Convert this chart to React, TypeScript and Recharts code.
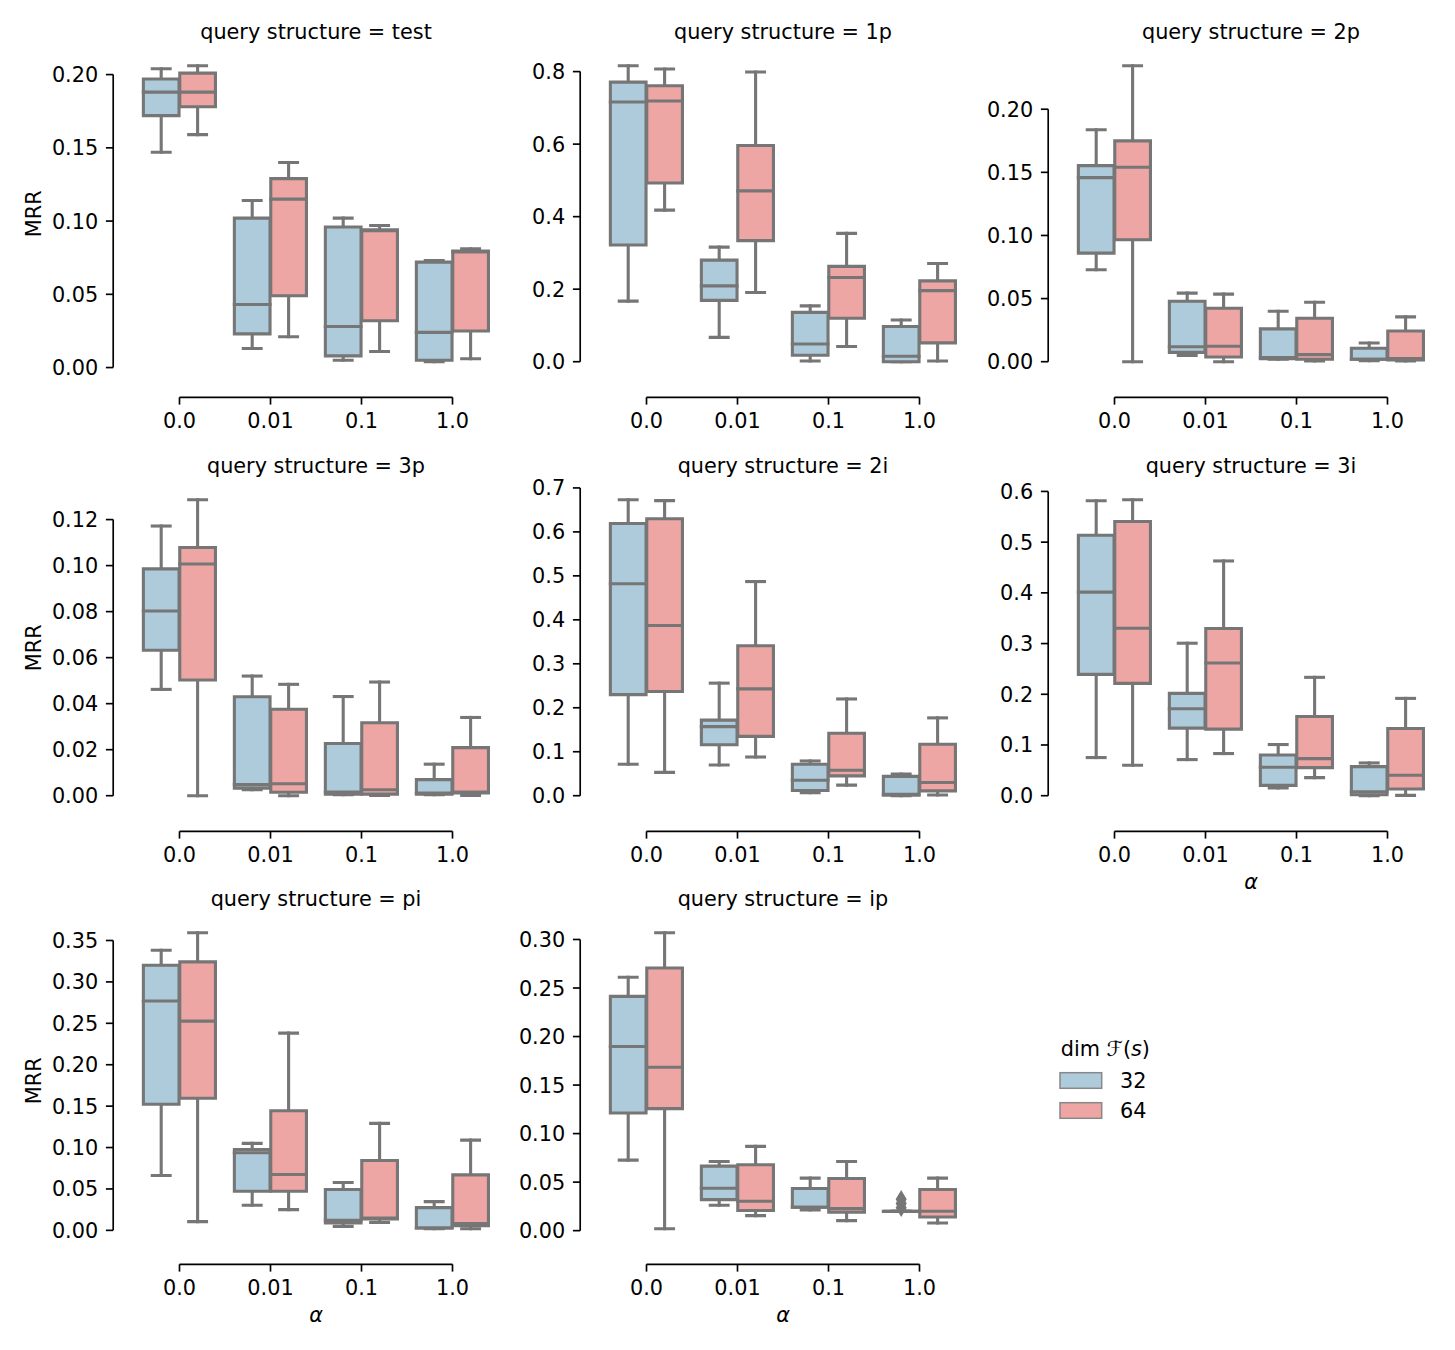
import React from 'react';
import { ComposedChart, Bar, XAxis, YAxis, Customized } from 'recharts';

const ALPHAS = ['0.0', '0.01', '0.1', '1.0'];

// every box: [whisker low, q1, median, q3, whisker high]
const test32 = [[0.147, 0.172, 0.188, 0.197, 0.204], [0.013, 0.023, 0.043, 0.102, 0.114], [0.005, 0.008, 0.028, 0.096, 0.102], [0.004, 0.005, 0.024, 0.072, 0.073]];
const test64 = [[0.159, 0.178, 0.188, 0.201, 0.206], [0.021, 0.049, 0.115, 0.129, 0.14], [0.011, 0.032, 0.0935, 0.0941, 0.097], [0.006, 0.025, 0.079, 0.0796, 0.081]];
const p1_32 = [[0.167, 0.322, 0.716, 0.771, 0.816], [0.067, 0.169, 0.209, 0.28, 0.316], [0.002, 0.018, 0.049, 0.136, 0.154], [0.0, 0.0, 0.015, 0.097, 0.115]];
const p1_64 = [[0.418, 0.493, 0.719, 0.761, 0.807], [0.191, 0.334, 0.471, 0.596, 0.799], [0.042, 0.12, 0.232, 0.263, 0.354], [0.002, 0.052, 0.196, 0.223, 0.271]];
const p2_32 = [[0.0728, 0.086, 0.1458, 0.1553, 0.1837], [0.005, 0.0074, 0.0119, 0.0479, 0.0543], [0.002, 0.0024, 0.0032, 0.026, 0.04], [0.0008, 0.0019, 0.002, 0.0106, 0.0148]];
const p2_64 = [[0.0, 0.0966, 0.154, 0.1749, 0.2344], [0.0, 0.0037, 0.0122, 0.0423, 0.0535], [0.0005, 0.0019, 0.0056, 0.0344, 0.0471], [0.0005, 0.0013, 0.0024, 0.0243, 0.0355]];
const p3_32 = [[0.0462, 0.0632, 0.0803, 0.0986, 0.1172], [0.0026, 0.0033, 0.0048, 0.043, 0.052], [0.0004, 0.0007, 0.0016, 0.0227, 0.0431], [0.0004, 0.0007, 0.0012, 0.007, 0.0137]];
const p3_64 = [[0.0, 0.0503, 0.1007, 0.1079, 0.1286], [0.0, 0.0015, 0.0052, 0.0376, 0.0484], [0.0001, 0.0007, 0.0026, 0.0317, 0.0494], [0.0001, 0.0012, 0.0016, 0.0209, 0.034]];
const i2_32 = [[0.0715, 0.23, 0.482, 0.619, 0.673], [0.07, 0.116, 0.157, 0.172, 0.256], [0.007, 0.012, 0.035, 0.0715, 0.079], [0.0, 0.001, 0.003, 0.044, 0.049]];
const i2_64 = [[0.053, 0.237, 0.387, 0.63, 0.671], [0.088, 0.135, 0.243, 0.341, 0.487], [0.024, 0.045, 0.058, 0.142, 0.22], [0.0015, 0.011, 0.03, 0.117, 0.177]];
const i3_32 = [[0.0752, 0.2393, 0.4015, 0.5136, 0.5815], [0.0712, 0.1332, 0.1714, 0.2018, 0.3007], [0.0152, 0.0204, 0.056, 0.0804, 0.1009], [0.0, 0.002, 0.0079, 0.0574, 0.0646]];
const i3_64 = [[0.06, 0.2215, 0.3303, 0.5407, 0.5835], [0.0831, 0.1312, 0.2618, 0.3297, 0.4629], [0.0356, 0.0554, 0.0732, 0.1563, 0.2334], [0.0007, 0.0132, 0.0402, 0.1325, 0.1919]];
const pi32 = [[0.0662, 0.1522, 0.2769, 0.3201, 0.3383], [0.0303, 0.0472, 0.0937, 0.0977, 0.105], [0.0048, 0.0089, 0.0121, 0.0493, 0.0577], [0.002, 0.0028, 0.0028, 0.0275, 0.0347]];
const pi64 = [[0.0105, 0.1595, 0.2527, 0.3242, 0.3593], [0.025, 0.0472, 0.0674, 0.1445, 0.2382], [0.0097, 0.0137, 0.0149, 0.0844, 0.1292], [0.002, 0.0057, 0.0081, 0.067, 0.109]];
const ip32 = [[0.0727, 0.1212, 0.1898, 0.2414, 0.2611], [0.0262, 0.032, 0.0437, 0.0665, 0.0713], [0.0214, 0.0241, 0.0241, 0.0434, 0.0541], [0.0199, 0.0199, 0.0199, 0.0199, 0.0199]];
const ip64 = [[0.002, 0.1257, 0.1684, 0.2707, 0.3069], [0.0155, 0.0207, 0.0303, 0.0679, 0.0868], [0.0103, 0.0189, 0.0227, 0.0537, 0.0713], [0.0079, 0.0141, 0.02, 0.0424, 0.0541]];
const ip32Fliers = [[], [], [], [0.0323, 0.028, 0.0235]];

const ticks2 = [0, 0.05, 0.1, 0.15, 0.2];
const ticks1p = [0, 0.2, 0.4, 0.6, 0.8];
const ticks3p = [0, 0.02, 0.04, 0.06, 0.08, 0.1, 0.12];
const ticks2i = [0, 0.1, 0.2, 0.3, 0.4, 0.5, 0.6, 0.7];
const ticks3i = [0, 0.1, 0.2, 0.3, 0.4, 0.5, 0.6];
const ticksPi = [0, 0.05, 0.1, 0.15, 0.2, 0.25, 0.3, 0.35];
const ticksIp = [0, 0.05, 0.1, 0.15, 0.2, 0.25, 0.3];

const FACETS = [
  { name: 'test', row: 0, col: 0, s32: test32, s64: test64, ticks: ticks2, digits: 2 },
  { name: '1p', row: 0, col: 1, s32: p1_32, s64: p1_64, ticks: ticks1p, digits: 1 },
  { name: '2p', row: 0, col: 2, s32: p2_32, s64: p2_64, ticks: ticks2, digits: 2 },
  { name: '3p', row: 1, col: 0, s32: p3_32, s64: p3_64, ticks: ticks3p, digits: 2 },
  { name: '2i', row: 1, col: 1, s32: i2_32, s64: i2_64, ticks: ticks2i, digits: 1 },
  { name: '3i', row: 1, col: 2, s32: i3_32, s64: i3_64, ticks: ticks3i, digits: 1, xlabel: true },
  { name: 'pi', row: 2, col: 0, s32: pi32, s64: pi64, ticks: ticksPi, digits: 2, xlabel: true },
  { name: 'ip', row: 2, col: 1, s32: ip32, s64: ip64, f32: ip32Fliers, ticks: ticksIp, digits: 2, xlabel: true },
];

const COL_LEFT = [133.5, 601.2, 1069.2];
const ROW_TOP = [51, 484.5, 917.5];
const PLOT_W = 364;
const PLOT_H = 325.5;
const ML = 130;
const MT = 50;
const MR = 12;
const MB = 100;
const BAND = PLOT_W / ALPHAS.length;
const OFFSET = 20.8;
const TICK_LEN = 7.3;
const FONT = '"DejaVu Sans", sans-serif';
const FS = 20.8;
const GRAY = '#767676';
const C32 = '#aecbdb';
const C64 = '#eea6a5';
const LW = 3.1;

const yDomain = (f) => {
  const vals = [...f.s32.flat(), ...f.s64.flat(), ...(f.f32 ? f.f32.flat() : [])];
  const lo = Math.min(...vals);
  const hi = Math.max(...vals);
  const pad = (hi - lo) * 0.05;
  return [lo - pad, hi + pad];
};

const boxRange = (stats, fliers) => [Math.min(stats[0], ...fliers), Math.max(stats[4], ...fliers)];

const BoxShape = (props) => {
  const { x, y, width, height, stats, fliers, fill } = props;
  const [wlo, q1, med, q3, whi] = stats;
  const [lo, hi] = boxRange(stats, fliers);
  const top = Math.min(y, y + height);
  const bot = Math.max(y, y + height);
  const py = (v) => (hi === lo ? bot : bot - ((v - lo) / (hi - lo)) * (bot - top));
  const cx = x + width / 2;
  const bw = width * 0.98;
  const cw = bw / 2;
  const line = { stroke: GRAY, strokeWidth: LW, strokeLinecap: 'square' as const };
  return (
    <g>
      <line x1={cx} x2={cx} y1={py(q1)} y2={py(wlo)} {...line} />
      <line x1={cx} x2={cx} y1={py(q3)} y2={py(whi)} {...line} />
      <line x1={cx - cw / 2} x2={cx + cw / 2} y1={py(wlo)} y2={py(wlo)} {...line} />
      <line x1={cx - cw / 2} x2={cx + cw / 2} y1={py(whi)} y2={py(whi)} {...line} />
      <path
        d={`M${cx - bw / 2},${py(q3)}H${cx + bw / 2}V${py(q1)}H${cx - bw / 2}Z`}
        fill={fill}
        stroke={GRAY}
        strokeWidth={LW}
        strokeLinejoin="miter"
      />
      <line x1={cx - bw / 2} x2={cx + bw / 2} y1={py(med)} y2={py(med)} {...line} />
      {fliers.map((v, i) => (
        <path
          key={i}
          d={`M${cx},${py(v) - 7.3}L${cx + 4.4},${py(v)}L${cx},${py(v) + 7.3}L${cx - 4.4},${py(v)}Z`}
          fill={GRAY}
          stroke={GRAY}
          strokeWidth={2}
        />
      ))}
    </g>
  );
};

const XTick = (props) => {
  const { x, y, index, payload } = props;
  const sy = y + OFFSET;
  return (
    <g>
      {index === 0 && (
        <line x1={x} x2={x + (ALPHAS.length - 1) * BAND} y1={sy} y2={sy} stroke="#000" strokeWidth={1.67} />
      )}
      <line x1={x} x2={x} y1={sy} y2={sy + TICK_LEN} stroke="#000" strokeWidth={1.67} />
      <text x={x} y={sy + 31} textAnchor="middle" fontFamily={FONT} fontSize={FS} fill="#000">
        {payload.value}
      </text>
    </g>
  );
};

const YTick = (props) => {
  const { x, y, payload, ticks, digits, ppu } = props;
  const sx = x - OFFSET;
  const first = payload.value === ticks[0];
  return (
    <g>
      {first && (
        <line
          x1={sx}
          x2={sx}
          y1={y}
          y2={y - (ticks[ticks.length - 1] - ticks[0]) * ppu}
          stroke="#000"
          strokeWidth={1.67}
        />
      )}
      <line x1={sx - TICK_LEN} x2={sx} y1={y} y2={y} stroke="#000" strokeWidth={1.67} />
      <text x={sx - 15} y={y + 7.5} textAnchor="end" fontFamily={FONT} fontSize={FS} fill="#000">
        {Number(payload.value).toFixed(digits)}
      </text>
    </g>
  );
};

const FacetLabels = ({ facet }) => {
  const cx = ML + PLOT_W / 2;
  return (
    <g fontFamily={FONT} fontSize={FS} fill="#000">
      <text x={cx} y={MT - 12.5} textAnchor="middle">
        query structure = {facet.name}
      </text>
      {facet.col === 0 && (
        <text
          x={ML - 92.8}
          y={MT + PLOT_H / 2}
          textAnchor="middle"
          transform={`rotate(-90 ${ML - 92.8} ${MT + PLOT_H / 2})`}
        >
          MRR
        </text>
      )}
      {facet.xlabel && (
        <text x={cx} y={MT + PLOT_H + OFFSET + 58} textAnchor="middle" fontStyle="italic">
          α
        </text>
      )}
    </g>
  );
};

const Facet = ({ facet }) => {
  const [lo, hi] = yDomain(facet);
  const ppu = PLOT_H / (hi - lo);
  const rows = ALPHAS.map((a, i) => ({
    alpha: a,
    s32: facet.s32[i],
    s64: facet.s64[i],
    f32: facet.f32 ? facet.f32[i] : [],
    f64: [],
  }));
  return (
    <div style={{ position: 'absolute', left: COL_LEFT[facet.col] - ML, top: ROW_TOP[facet.row] - MT }}>
      <ComposedChart
        width={ML + PLOT_W + MR}
        height={MT + PLOT_H + MB}
        data={rows}
        margin={{ top: MT, right: MR, bottom: 0, left: 0 }}
        barGap={0}
        barCategoryGap="10%"
      >
        <XAxis
          dataKey="alpha"
          type="category"
          height={MB}
          axisLine={false}
          tickLine={false}
          tickSize={0}
          tickMargin={0}
          interval={0}
          tick={(p) => <XTick {...p} />}
        />
        <YAxis
          type="number"
          domain={[lo, hi]}
          ticks={facet.ticks}
          allowDataOverflow
          width={ML}
          axisLine={false}
          tickLine={false}
          tickSize={0}
          tickMargin={0}
          interval={0}
          tick={(p) => <YTick {...p} ticks={facet.ticks} digits={facet.digits} ppu={ppu} />}
        />
        <Bar
          dataKey={(d) => boxRange(d.s32, d.f32)}
          barSize={BAND * 0.4}
          fill={C32}
          isAnimationActive={false}
          shape={(p) => <BoxShape {...p} stats={p.payload.s32} fliers={p.payload.f32} fill={C32} />}
        />
        <Bar
          dataKey={(d) => boxRange(d.s64, d.f64)}
          barSize={BAND * 0.4}
          fill={C64}
          isAnimationActive={false}
          shape={(p) => <BoxShape {...p} stats={p.payload.s64} fliers={p.payload.f64} fill={C64} />}
        />
        <Customized component={<FacetLabels facet={facet} />} />
      </ComposedChart>
    </div>
  );
};

const Legend = () => (
  <svg
    width={150}
    height={100}
    style={{ position: 'absolute', left: 1040, top: 1030 }}
    fontFamily={FONT}
    fontSize={FS}
  >
    <text x={20.7} y={26} fill="#000">
      dim ℱ(<tspan fontStyle="italic">s</tspan>)
    </text>
    <rect x={20} y={42.7} width={41.7} height={15.6} fill={C32} stroke="#888" strokeWidth={1.5} />
    <rect x={20} y={72.7} width={41.7} height={15.6} fill={C64} stroke="#888" strokeWidth={1.5} />
    <text x={80} y={58.3} fill="#000">32</text>
    <text x={80} y={88.3} fill="#000">64</text>
  </svg>
);

const App = () => (
  <div style={{ position: 'absolute', left: 0, top: 0, width: 1455, height: 1350, background: '#fff' }}>
    {FACETS.map((f) => (
      <Facet key={f.name} facet={f} />
    ))}
    <Legend />
  </div>
);

export default App;
